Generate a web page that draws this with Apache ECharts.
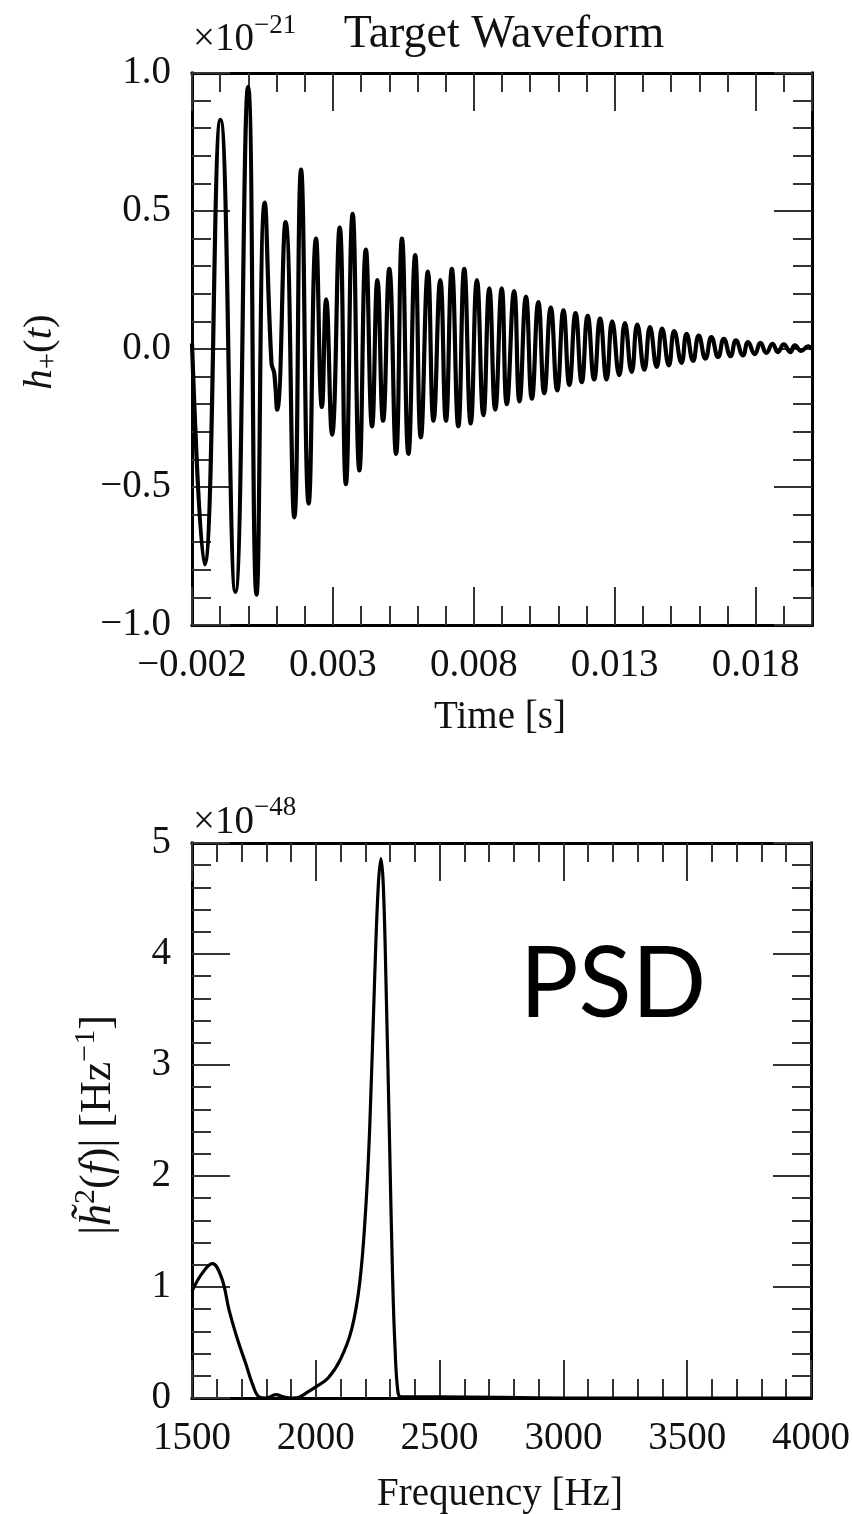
<!DOCTYPE html>
<html><head><meta charset="utf-8">
<script src="https://cdn.jsdelivr.net/npm/echarts@6/dist/echarts.min.js"></script>
<style>html,body{margin:0;padding:0;background:#fff}#c{width:853px;height:1514px}</style>
</head><body><div id="c"></div>
<script>
// ---------- DATA ----------
// Target waveform h+(t), units of 1e-21, time in seconds (peaks / troughs)
const waveTime = [
 -0.00200,-0.00156,-0.00099,-0.00046,-0.00001,0.00029,0.00058,0.00082,0.00092,0.00102,
 0.00132,0.00163,0.00187,0.00214,0.00240,0.00261,0.00276,0.00297,0.00324,0.00346,
 0.00370,0.00394,0.00417,0.00439,0.00458,0.00478,0.00500,0.00524,0.00545,0.00568,
 0.00592,0.00612,0.00637,0.00657,0.00681,0.00701,0.00722,0.00745,0.00766,0.00789,
 0.00811,0.00834,0.00855,0.00876,0.00899,0.00917,0.00943,0.00962,0.00985,0.01006,
 0.01029,0.01050,0.01073,0.01096,0.01118,0.01139,0.01161,0.01183,0.01204,0.01227,
 0.01248,0.01271,0.01291,0.01316,0.01336,0.01360,0.01380,0.01405,0.01425,0.01449,
 0.01468,0.01492,0.01511,0.01537,0.01555,0.01578,0.01598,0.01622,0.01643,0.01667,
 0.01687,0.01711,0.01730,0.01755,0.01773,0.01797,0.01817,0.01838,0.01860,0.01879,
 0.01900,0.01923,0.01939,0.01962,0.01986,0.02000
];
const waveStrain = [
 0.02,-0.78,0.83,-0.88,0.95,-0.89,0.53,-0.05,-0.09,-0.22,
 0.46,-0.61,0.65,-0.56,0.40,-0.21,0.18,-0.31,0.44,-0.49,
 0.49,-0.44,0.36,-0.28,0.25,-0.26,0.29,-0.38,0.40,-0.38,
 0.34,-0.32,0.28,-0.26,0.25,-0.26,0.29,-0.28,0.29,-0.27,
 0.25,-0.24,0.22,-0.22,0.22,-0.20,0.21,-0.19,0.19,-0.18,
 0.17,-0.16,0.15,-0.15,0.14,-0.13,0.13,-0.12,0.12,-0.11,
 0.11,-0.11,0.10,-0.095,0.094,-0.083,0.088,-0.075,0.079,-0.065,
 0.074,-0.059,0.065,-0.050,0.055,-0.043,0.049,-0.035,0.043,-0.029,
 0.037,-0.026,0.031,-0.023,0.025,-0.019,0.022,-0.014,0.019,-0.011,
 0.017,-0.011,0.013,-0.007,0.010,0.0
];
// PSD |h~^2(f)|, units of 1e-48 Hz^-1
const psdFreq = [1500,1540,1582,1620,1650,1685,1717,1745,1771,1800,
 1839,1870,1905,1935,1965,2000,2050,2100,2145,2178,
 2202,2218,2238,2252,2263,2273,2285,2298,2310,2320,
 2332,2345,2400,2500,3000,3500,4000];
const psdPower = [0.96,1.12,1.21,1.08,0.79,0.52,0.31,0.12,0.01,0.0,
 0.03,0.01,0.0,0.01,0.05,0.10,0.18,0.35,0.62,1.05,
 1.72,2.45,3.8,4.6,4.86,4.6,3.6,2.3,1.1,0.45,
 0.05,0.01,0.01,0.01,0.0,0.0,0.0];

// tick labels
const timeTickLabels = ['\u22120.002','0.003','0.008','0.013','0.018'];
const strainTickLabels = ['\u22121.0','\u22120.5','0.0','0.5','1.0'];
const freqTickLabels = ['1500','2000','2500','3000','3500','4000'];
const psdTickLabels = ['0','1','2','3','4','5'];
const timeStart = -0.002, timeEnd = 0.020;

// ---------- CHART ----------
const SERIF = '"Liberation Serif","DejaVu Serif",serif';
function frameAxis(o, labels) {
  return Object.assign({
    type: 'value',
    axisLine: {show: true, onZero: false, lineStyle: {color: '#000', width: 3, cap: 'square'}},
    axisTick: {show: true, inside: true, length: 38, lineStyle: {color: '#333', width: 2}},
    minorTick: {show: true, splitNumber: 5, length: 19, lineStyle: {color: '#333', width: 2}},
    splitLine: {show: false}, minorSplitLine: {show: false},
    axisLabel: labels ? {show: true, margin: 21, color: '#111', fontFamily: SERIF, fontSize: 39,
      formatter: (v, i) => labels[i] !== undefined ? labels[i] : ''} : {show: false}
  }, o);
}

const waveData = waveTime.map((t, i) => [t, waveStrain[i]]);
const psdData = psdFreq.map((f, i) => [f, psdPower[i]]);
const span = timeEnd - timeStart;

function txt(text, x, y, size, align) {
  const a = align || 'center';
  return {type: 'text', x: x, y: y, silent: true,
    style: {text: text, fontFamily: SERIF, fontSize: size, fill: '#111',
      align: a, verticalAlign: 'middle', textAlign: a, textVerticalAlign: 'middle'}};
}

const option = {
  animation: false,
  backgroundColor: '#fff',
  grid: [
    {left: 192, top: 73, width: 620, height: 552},
    {left: 192, top: 843, width: 620, height: 555}
  ],
  xAxis: [
    {gridIndex: 0, type: 'value', min: timeStart, max: timeEnd, show: false, position: 'bottom'},
    frameAxis({gridIndex: 0, position: 'bottom', min: 0, max: span, interval: 0.005}, timeTickLabels),
    frameAxis({gridIndex: 0, position: 'top', min: 0, max: span, interval: 0.005}, null),
    frameAxis({gridIndex: 1, position: 'bottom', min: 1500, max: 4000, interval: 500}, freqTickLabels),
    frameAxis({gridIndex: 1, position: 'top', min: 1500, max: 4000, interval: 500}, null)
  ],
  yAxis: [
    frameAxis({gridIndex: 0, position: 'left', min: -1, max: 1, interval: 0.5}, strainTickLabels),
    frameAxis({gridIndex: 0, position: 'right', min: -1, max: 1, interval: 0.5}, null),
    frameAxis({gridIndex: 1, position: 'left', min: 0, max: 5, interval: 1}, psdTickLabels),
    frameAxis({gridIndex: 1, position: 'right', min: 0, max: 5, interval: 1}, null)
  ],
  series: [
    {type: 'line', xAxisIndex: 0, yAxisIndex: 0, data: waveData, smooth: 0.5, symbol: 'none',
     lineStyle: {color: '#000', width: 4.2}, clip: true},
    {type: 'line', xAxisIndex: 3, yAxisIndex: 2, data: psdData, smooth: 0.4, symbol: 'none',
     lineStyle: {color: '#000', width: 3.2}, clip: true}
  ],
  graphic: [
    txt('\u00d710', 193, 40, 39, 'left'),
    txt('\u221221', 254, 26, 27, 'left'),
    txt('Target Waveform', 504, 35, 46),
    {type: 'text', x: 40, y: 352, rotation: Math.PI / 2, silent: true,
     style: {text: '{i|h}{s|+}{n|(}{i|t}{n|)}', align: 'center', verticalAlign: 'middle',
       textAlign: 'center', textVerticalAlign: 'middle', fill: '#111', fontFamily: SERIF, fontSize: 41,
       rich: {i: {fontFamily: SERIF, fontSize: 41, fontStyle: 'italic', fill: '#111'},
              n: {fontFamily: SERIF, fontSize: 41, fill: '#111'},
              s: {fontFamily: SERIF, fontSize: 29, fill: '#111', padding: [16, 0, 0, 0]}}}},
    txt('Time [s]', 500, 718, 39),
    txt('\u00d710', 193, 823, 39, 'left'),
    txt('\u221248', 254, 808, 27, 'left'),
    {type: 'text', x: 613, y: 985, silent: true,
     style: {text: 'PSD', fontFamily: 'Lato, "Open Sans", sans-serif', fontSize: 98, fill: '#000',
       align: 'center', verticalAlign: 'middle', textAlign: 'center', textVerticalAlign: 'middle'}},
    {type: 'text', x: 98, y: 1125, rotation: Math.PI / 2, silent: true,
     style: {text: '{n||}{i|h\u0303}{s|2}{n|(}{i|f}{n|)| [Hz}{s|\u22121}{n|]}', align: 'center', verticalAlign: 'middle',
       textAlign: 'center', textVerticalAlign: 'middle', fill: '#111', fontFamily: SERIF, fontSize: 44,
       rich: {i: {fontFamily: SERIF, fontSize: 44, fontStyle: 'italic', fill: '#111'},
              n: {fontFamily: SERIF, fontSize: 44, fill: '#111'},
              s: {fontFamily: SERIF, fontSize: 30, fill: '#111', padding: [0, 0, 24, 0]}}}},
    txt('Frequency [Hz]', 500, 1495, 39)
  ]
};
const chart = echarts.init(document.getElementById('c'), null, {renderer: 'canvas'});
chart.setOption(option);
</script>
</body></html>
